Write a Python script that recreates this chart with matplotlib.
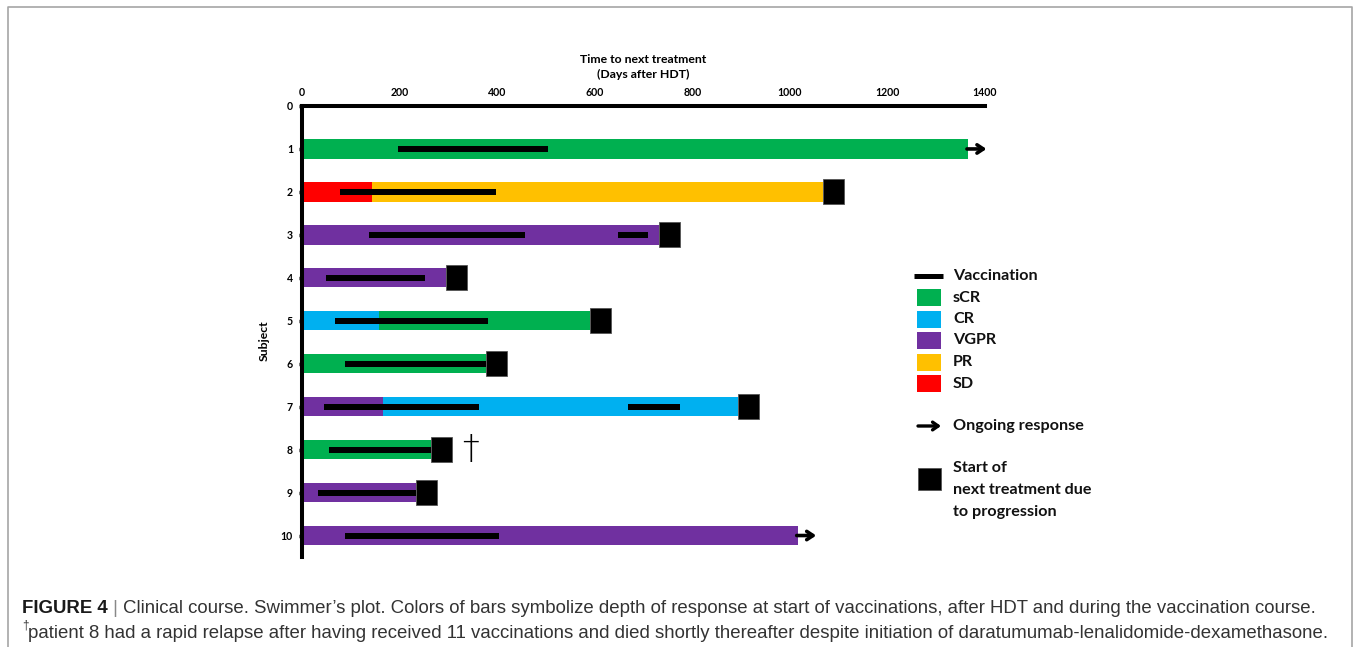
import matplotlib
matplotlib.use('Agg')
import matplotlib.pyplot as plt
from matplotlib.patches import Rectangle
from matplotlib.lines import Line2D

# response colours (Office palette)
colors = {
    'sCR': '#00B050',
    'CR': '#00B0F0',
    'VGPR': '#7030A0',
    'PR': '#FFC000',
    'SD': '#FF0000',
}
legend_order = ['sCR', 'CR', 'VGPR', 'PR', 'SD']

subjects = [1, 2, 3, 4, 5, 6, 7, 8, 9, 10]

# response segments per subject: (start day, end day, response)
segments = {
    1: [(0, 1365, 'sCR')],
    2: [(0, 143, 'SD'), (143, 1068, 'PR')],
    3: [(0, 732, 'VGPR')],
    4: [(0, 295, 'VGPR')],
    5: [(0, 158, 'CR'), (158, 590, 'sCR')],
    6: [(0, 377, 'sCR')],
    7: [(0, 167, 'VGPR'), (167, 893, 'CR')],
    8: [(0, 264, 'sCR')],
    9: [(0, 234, 'VGPR')],
    10: [(0, 1016, 'VGPR')],
}

# vaccination periods per subject: (start day, end day)
vaccinations = {
    1: [(197, 504)],
    2: [(78, 398)],
    3: [(137, 457), (648, 709)],
    4: [(49, 252)],
    5: [(68, 381)],
    6: [(88, 377)],
    7: [(45, 363), (668, 775)],
    8: [(55, 264)],
    9: [(33, 234)],
    10: [(88, 404)],
}

# how the course ends: 'arrow' = ongoing response, 'square' = next treatment
outcome = {1: 'arrow', 2: 'square', 3: 'square', 4: 'square', 5: 'square',
           6: 'square', 7: 'square', 8: 'square', 9: 'square', 10: 'arrow'}
died = [8]

x_ticks = [0, 200, 400, 600, 800, 1000, 1200, 1400]
y_ticks = [0] + subjects

W, H = 1356, 647
fig = plt.figure(figsize=(W / 100, H / 100), dpi=100)
ax = fig.add_axes([302 / W, 1 - 557 / H, 683 / W, 451 / H])

chart_font = 'Lato'

for s in subjects:
    for start, end, resp in segments[s]:
        ax.barh(s, end - start, left=start, height=0.45, color=colors[resp],
                linewidth=0, zorder=2)
    for start, end in vaccinations[s]:
        ax.barh(s, end - start, left=start, height=0.14, color='black',
                linewidth=0, zorder=3)
    last = segments[s][-1][1]
    if outcome[s] == 'square':
        ax.add_patch(Rectangle((last, s - 0.29), 43, 0.58, facecolor='black',
                               edgecolor='#555555', linewidth=0.6, zorder=4))
    else:
        ax.annotate('', xy=(last + 38, s), xytext=(last - 2, s),
                    arrowprops=dict(arrowstyle='->,head_length=0.45,head_width=0.3',
                                    lw=2.6, color='black', shrinkA=0, shrinkB=0),
                    annotation_clip=False, zorder=4)
    if s in died:
        ax.text(last + 82, s, '\u2020', ha='center', va='center', fontsize=24,
                family='DejaVu Sans', fontweight='light', color='black')

ax.set_xlim(0, 1400)
ax.set_ylim(10.5, 0)
ax.xaxis.tick_top()
ax.set_xticks(x_ticks)
ax.set_yticks(y_ticks)
ax.tick_params(axis='x', length=0, pad=6)
ax.tick_params(axis='y', length=2.5, width=2.5, pad=4)
for lab in ax.get_xticklabels() + ax.get_yticklabels():
    lab.set_family(chart_font)
    lab.set_fontweight('bold')
    lab.set_fontsize(7.6)

for side in ['right', 'bottom']:
    ax.spines[side].set_visible(False)
for side in ['left', 'top']:
    ax.spines[side].set_linewidth(2.9)

ax.xaxis.set_label_position('top')
ax.set_xlabel('Time to next treatment\n(Days after HDT)', family=chart_font,
              fontweight='bold', fontsize=8.8, labelpad=6, linespacing=1.45)
ax.set_ylabel('Subject', family=chart_font, fontweight='bold', fontsize=8.8)
ax.yaxis.set_label_coords(-0.047, 0.48)


# ── legend (drawn in figure pixels) ──
def fx(px):
    return px / W


def fy(py):
    return 1 - py / H


leg_kw = dict(family=chart_font, fontweight='bold', fontsize=11.6,
              va='center', ha='left', color='#111111')
fig.add_artist(Line2D([fx(914), fx(943)], [fy(276), fy(276)], color='black',
                      lw=3.6, solid_capstyle='butt'))
fig.text(fx(953), fy(276), 'Vaccination', **leg_kw)
for i, resp in enumerate(legend_order):
    yc = 297.5 + i * 21.5
    fig.add_artist(Rectangle((fx(917), fy(yc + 8.5)), 24 / W, 17 / H,
                             facecolor=colors[resp], edgecolor='none',
                             transform=fig.transFigure))
    fig.text(fx(953), fy(yc), resp, **leg_kw)
ax.annotate('', xy=(fx(941), fy(426)), xytext=(fx(918), fy(426)),
            xycoords='figure fraction', textcoords='figure fraction',
            arrowprops=dict(arrowstyle='->,head_length=0.4,head_width=0.28',
                            lw=2.4, color='black', shrinkA=0, shrinkB=0),
            annotation_clip=False)
fig.text(fx(953), fy(426), 'Ongoing response', **leg_kw)
fig.add_artist(Rectangle((fx(918), fy(490)), 23 / W, 22 / H,
                         facecolor='black', edgecolor='#555555', linewidth=0.6,
                         transform=fig.transFigure))
fig.text(fx(953), fy(490), 'Start of\nnext treatment due\nto progression',
         linespacing=1.72, **leg_kw)

# ── frame around the figure panel (open at the bottom) ──
frame_kw = dict(color='#a6a6a6', lw=1.2, transform=fig.transFigure)
fig.add_artist(Line2D([fx(8), fx(8), fx(1352), fx(1352)],
                      [0, fy(7), fy(7), 0], **frame_kw))

# ── caption ──
cap_size = 13.45
cap_kw = dict(family='Liberation Sans', fontsize=cap_size, va='baseline')
t1 = fig.text(fx(22), fy(613), 'FIGURE 4', fontweight='bold',
              color='#1a1a1a', **cap_kw)
sep = ax.annotate(' | ', xy=(1, 0), xycoords=t1, ha='left', va='bottom',
                  color='#888888', family='Liberation Sans', fontsize=cap_size,
                  annotation_clip=False)
ax.annotate('Clinical course. Swimmer\u2019s plot. Colors of bars symbolize depth '
            'of response at start of vaccinations, after HDT and during the '
            'vaccination course.',
            xy=(1, 0), xycoords=sep, ha='left', va='bottom', color='#333333',
            family='Liberation Sans', fontsize=cap_size, annotation_clip=False)
fig.text(fx(22), fy(629), '\u2020', family='Liberation Sans', fontsize=8.5,
         color='#333333', va='baseline')
fig.text(fx(28), fy(638), 'patient 8 had a rapid relapse after having received '
         '11 vaccinations and died shortly thereafter despite initiation of '
         'daratumumab-lenalidomide-dexamethasone.', color='#333333', **cap_kw)

fig.savefig('out.png', dpi=100)
